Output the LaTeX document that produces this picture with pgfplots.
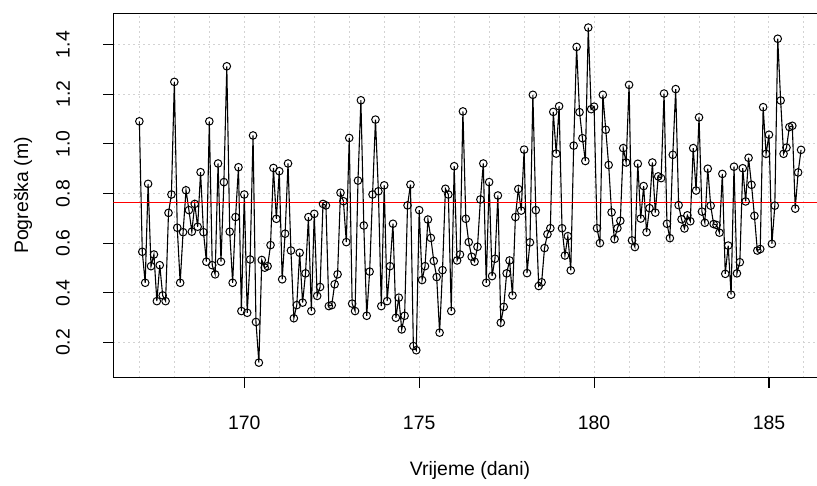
\documentclass[border=0pt]{standalone}
\usepackage{fontspec}
\setmainfont{Liberation Sans}
\usepackage{pgfplots}
\pgfplotsset{compat=1.18}
\usepackage{pgfplotstable}

\pgfplotstableread[row sep=\\]{
k v\\
0 1.091\\ 1 0.565\\ 2 0.440\\ 3 0.839\\ 4 0.507\\ 5 0.554\\ 6 0.366\\ 7 0.511\\ 8 0.389\\ 9 0.366\\
10 0.722\\ 11 0.796\\ 12 1.250\\ 13 0.662\\ 14 0.440\\ 15 0.644\\ 16 0.813\\ 17 0.733\\ 18 0.646\\ 19 0.758\\
20 0.666\\ 21 0.886\\ 22 0.644\\ 23 0.525\\ 24 1.091\\ 25 0.511\\ 26 0.474\\ 27 0.921\\ 28 0.525\\ 29 0.846\\
30 1.313\\ 31 0.646\\ 32 0.440\\ 33 0.705\\ 34 0.906\\ 35 0.326\\ 36 0.796\\ 37 0.319\\ 38 0.534\\ 39 1.034\\
40 0.282\\ 41 0.118\\ 42 0.532\\ 43 0.501\\ 44 0.507\\ 45 0.592\\ 46 0.903\\ 47 0.698\\ 48 0.890\\ 49 0.454\\
50 0.638\\ 51 0.921\\ 52 0.570\\ 53 0.297\\ 54 0.350\\ 55 0.561\\ 56 0.360\\ 57 0.478\\ 58 0.705\\ 59 0.326\\
60 0.718\\ 61 0.387\\ 62 0.423\\ 63 0.758\\ 64 0.752\\ 65 0.346\\ 66 0.350\\ 67 0.434\\ 68 0.474\\ 69 0.803\\
70 0.769\\ 71 0.604\\ 72 1.024\\ 73 0.356\\ 74 0.326\\ 75 0.852\\ 76 1.176\\ 77 0.671\\ 78 0.307\\ 79 0.485\\
80 0.796\\ 81 1.098\\ 82 0.809\\ 83 0.346\\ 84 0.833\\ 85 0.366\\ 86 0.507\\ 87 0.678\\ 88 0.299\\ 89 0.380\\
90 0.252\\ 91 0.307\\ 92 0.752\\ 93 0.836\\ 94 0.185\\ 95 0.168\\ 96 0.733\\ 97 0.451\\ 98 0.507\\ 99 0.695\\
100 0.621\\ 101 0.528\\ 102 0.463\\ 103 0.239\\ 104 0.491\\ 105 0.819\\ 106 0.796\\ 107 0.326\\ 108 0.910\\ 109 0.530\\
110 0.554\\ 111 1.131\\ 112 0.698\\ 113 0.604\\ 114 0.545\\ 115 0.525\\ 116 0.585\\ 117 0.776\\ 118 0.921\\ 119 0.440\\
120 0.846\\ 121 0.467\\ 122 0.537\\ 123 0.792\\ 124 0.279\\ 125 0.343\\ 126 0.478\\ 127 0.530\\ 128 0.389\\ 129 0.705\\
130 0.818\\ 131 0.731\\ 132 0.977\\ 133 0.479\\ 134 0.603\\ 135 1.198\\ 136 0.733\\ 137 0.427\\ 138 0.442\\ 139 0.580\\
140 0.636\\ 141 0.660\\ 142 1.129\\ 143 0.961\\ 144 1.152\\ 145 0.660\\ 146 0.550\\ 147 0.628\\ 148 0.490\\ 149 0.993\\
150 1.391\\ 151 1.128\\ 152 1.023\\ 153 0.931\\ 154 1.469\\ 155 1.140\\ 156 1.150\\ 157 0.660\\ 158 0.600\\ 159 1.198\\
160 1.057\\ 161 0.915\\ 162 0.724\\ 163 0.616\\ 164 0.660\\ 165 0.690\\ 166 0.983\\ 167 0.925\\ 168 1.238\\ 169 0.611\\
170 0.584\\ 171 0.920\\ 172 0.699\\ 173 0.830\\ 174 0.644\\ 175 0.741\\ 176 0.925\\ 177 0.723\\ 178 0.869\\ 179 0.862\\
180 1.203\\ 181 0.678\\ 182 0.620\\ 183 0.956\\ 184 1.221\\ 185 0.753\\ 186 0.696\\ 187 0.659\\ 188 0.712\\ 189 0.688\\
190 0.983\\ 191 0.812\\ 192 1.107\\ 193 0.727\\ 194 0.682\\ 195 0.900\\ 196 0.751\\ 197 0.677\\ 198 0.673\\ 199 0.642\\
200 0.879\\ 201 0.476\\ 202 0.590\\ 203 0.392\\ 204 0.908\\ 205 0.478\\ 206 0.523\\ 207 0.902\\ 208 0.768\\ 209 0.944\\
210 0.835\\ 211 0.710\\ 212 0.570\\ 213 0.576\\ 214 1.148\\ 215 0.960\\ 216 1.037\\ 217 0.597\\ 218 0.751\\ 219 1.424\\
220 1.175\\ 221 0.960\\ 222 0.985\\ 223 1.068\\ 224 1.073\\ 225 0.739\\ 226 0.885\\ 227 0.976\\
}\errdata

\definecolor{gridgray}{RGB}{211,211,211}

\begin{document}
\begin{tikzpicture}
\useasboundingbox (0,0) rectangle (817bp,486bp);
\begin{axis}[
  at={(113.3bp,108.3bp)}, anchor=south west,
  scale only axis, width=713.4bp, height=364.4bp,
  xmin=166.255, xmax=186.65, ymin=0.0573, ymax=1.5266,
  axis line style={line width=1.1bp, black},
  xtick={170,175,180,185}, xticklabels={170,175,180,185},
  minor xtick={167,168,...,186},
  ytick={0.2,0.4,0.6,0.8,1.0,1.2,1.4},
  yticklabels={0.2,0.4,0.6,0.8,1.0,1.2,1.4},
  xtick pos=bottom, ytick pos=left,
  tick align=outside, major tick length=10bp, minor tick length=0pt,
  tick style={black, line width=1.1bp},
  grid=both,
  major grid style={gridgray, line width=1bp, dash pattern=on 2bp off 3bp},
  minor grid style={gridgray, line width=1bp, dash pattern=on 2bp off 3bp},
  tick label style={font=\fontsize{19.5}{22}\selectfont, inner sep=0pt},
  xticklabel style={anchor=center, yshift=-35.3bp},
  yticklabel style={anchor=center, xshift=-40.3bp, rotate=90},
  xlabel={Vrijeme (dani)}, ylabel={Pogreška (m)},
  label style={font=\fontsize{19.5}{22}\selectfont, inner sep=0pt},
  xlabel style={at={(axis description cs:0.5,-0.2533)}, anchor=center},
  ylabel style={at={(axis description cs:-0.1266,0.5)}, anchor=center},
]
\addplot[black, line width=1.1bp, mark=o, mark size=3.8bp,
  mark options={line width=1bp, solid}]
  table[x expr=167+\thisrow{k}/12, y=v] {\errdata};
\addplot[red, line width=1.1bp, forget plot] coordinates {(166.255,0.763) (186.65,0.763)};
\end{axis}
\end{tikzpicture}
\end{document}
